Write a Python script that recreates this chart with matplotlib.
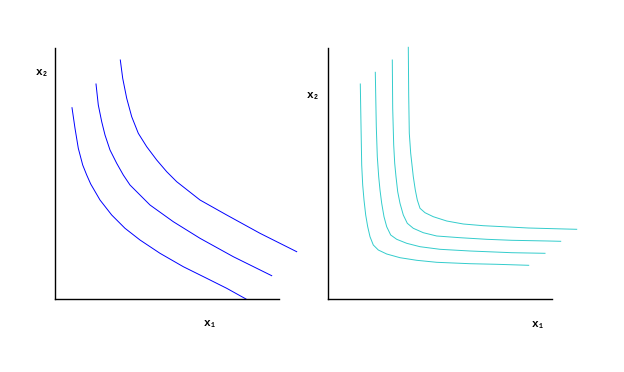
import matplotlib
matplotlib.use("Agg")
import matplotlib.pyplot as plt

# left panel: three ordinary indifference curves (x, y in axis units)
left_x = [
    [17, 20, 23.3, 27.7, 31.7, 35.7, 45, 56.7, 70, 85, 105, 128.3, 151.7, 171.7, 191],
    [41, 43.3, 46.7, 50, 55, 61.7, 68.3, 75, 95, 118.3, 145, 178.3, 216.7],
    [65.3, 67.7, 71.7, 76.7, 83.3, 91.7, 101.7, 111.7, 121.7, 145, 171.7, 205, 241.7],
]
left_y = [
    [191.3, 170.7, 150.7, 134, 124, 115, 99, 84, 70.7, 59, 45.7, 32.3, 20.7, 10.7, 0],
    [215, 194, 177.3, 164, 149, 135.7, 124, 114, 94, 77.3, 60.7, 42.3, 23.3],
    [239, 220.7, 200.7, 182.3, 165.7, 152.3, 139, 127.3, 117.3, 99, 84, 65.7, 47.3],
]

# right panel: four sharply bent curves
right_x = [
    [32.3, 33, 33.7, 34.7, 36, 37.7, 39.7, 42, 45.3, 50.3, 58.7, 72, 88.7, 108.7, 142, 168.7, 200.7],
    [47.3, 48.3, 49.3, 50.7, 52, 53.7, 56, 58.7, 62.7, 68.7, 78.7, 92, 112, 142, 183.7, 217],
    [64.3, 64.7, 65.7, 66.7, 68, 69.7, 72, 75.3, 79.3, 85.3, 95.3, 108.7, 132, 158.7, 183.7, 220.3, 232.7],
    [80.3, 80.7, 81.3, 82.7, 84, 85.3, 87.3, 89.3, 92, 97, 105.3, 118.7, 135.3, 155.3, 175.3, 200.3, 237, 248.7],
]
right_y = [
    [215, 174, 134, 114, 99, 84, 72.3, 62.3, 54, 49, 45, 41.3, 38.7, 36.7, 35.3, 34.7, 33.7],
    [226.7, 172.3, 142.3, 122.3, 109, 95.7, 82.3, 72.3, 64, 59.7, 55.7, 52.3, 49.7, 48, 46.3, 45.7],
    [239, 190.7, 154, 135.7, 122.3, 107.3, 95.7, 84, 75.7, 70.7, 66.3, 63, 61.3, 59.7, 58.7, 58, 57.7],
    [251.7, 204, 165.7, 145.7, 134, 122.3, 109, 99, 90.7, 86.3, 82.3, 78, 75, 73.3, 72.3, 71, 70, 69.7],
]

W, H = 624, 372
fig = plt.figure(figsize=(W / 100, H / 100), dpi=100)
fig.patch.set_facecolor("white")

label_font = dict(family=["Liberation Mono", "DejaVu Sans Mono"], fontsize=8,
                  fontweight="bold", ha="center", va="center")


def make_axes(left_px, xs, ys, color):
    ax = fig.add_axes([left_px / W, (H - 299) / H, 224 / W, 251 / H])
    for x, y in zip(xs, ys):
        ax.plot(x, y, color=color, lw=0.7, clip_on=False)
    ax.set_xlim(0, 224)
    ax.set_ylim(0, 251)
    for s in ["top", "right"]:
        ax.spines[s].set_visible(False)
    for s in ["left", "bottom"]:
        ax.spines[s].set_linewidth(1.0)
        ax.spines[s].set_color("black")
    ax.set_xticks([])
    ax.set_yticks([])
    return ax


make_axes(55, left_x, left_y, "#0000ff")
make_axes(328, right_x, right_y, "#33cccc")

fig.text(42 / W, 1 - 72 / H, "x₂", **label_font)
fig.text(210 / W, 1 - 323 / H, "x₁", **label_font)
fig.text(313 / W, 1 - 95 / H, "x₂", **label_font)
fig.text(538 / W, 1 - 324 / H, "x₁", **label_font)

fig.savefig("out.png", dpi=100)
